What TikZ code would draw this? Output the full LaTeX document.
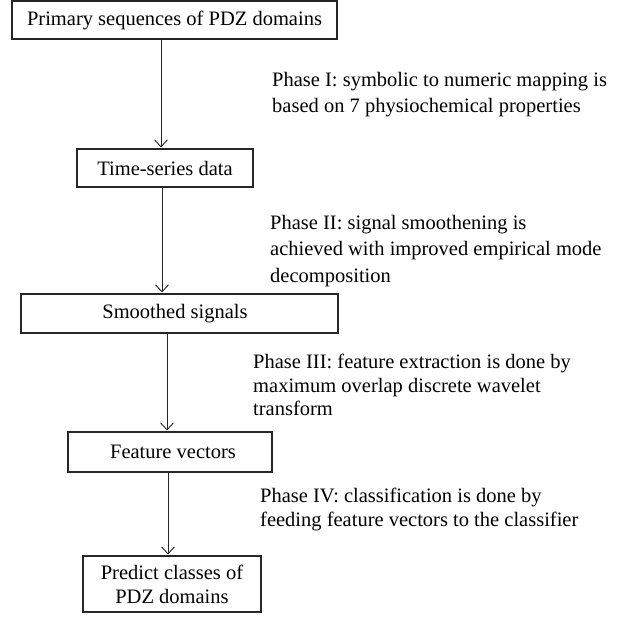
\documentclass[tikz,border=0pt]{standalone}
\usepackage{fontspec}
\setmainfont{Liberation Serif}
\usetikzlibrary{arrows.meta}
\tikzset{
  boxnode/.style={draw=black!85, line width=1.1pt, inner sep=0pt, align=center,
    font={\fontsize{20.5}{24}\selectfont}},
  phasetext/.style={anchor=north west, inner sep=0pt, align=left},
  flowarrow/.style={draw=black!85, line width=0.9pt, -{Straight Barb[length=7pt,width=13pt]}, shorten >=1pt},
}
\begin{document}
\begin{tikzpicture}[x=1pt,y=-1pt]
\useasboundingbox (0,0) rectangle (634,616);
\node[boxnode, minimum width=325pt, minimum height=38pt] (b1) at (174.5,20) {Primary sequences of PDZ domains};
\node[boxnode, minimum width=176pt, minimum height=38pt] (b2) at (165,168) {Time-series data};
\node[boxnode, minimum width=317pt, minimum height=39pt] (b3) at (179.5,313.5) {\hspace*{-9pt}Smoothed signals};
\node[boxnode, minimum width=204pt, minimum height=40pt] (b4) at (170,452) {\hspace*{6pt}Feature vectors};
\node[boxnode, minimum width=178pt, minimum height=56pt] (b5) at (172,584) {Predict classes of\\PDZ domains};

\coordinate (x1) at (161,0);
\coordinate (x2) at (162,0);
\coordinate (x3) at (167,0);
\coordinate (x4) at (168,0);
\draw[flowarrow] (b1.south -| x1) -- (b2.north -| x1);
\draw[flowarrow] (b2.south -| x2) -- (b3.north -| x2);
\draw[flowarrow] (b3.south -| x3) -- (b4.north -| x3);
\draw[flowarrow] (b4.south -| x4) -- (b5.north -| x4);

\node[phasetext, font={\fontsize{20.5}{26.5}\selectfont}] (p1) at (272,72) {Phase I: symbolic to numeric mapping is\\based on 7 physiochemical properties};
\node[phasetext, font={\fontsize{20.5}{26.5}\selectfont}] (p2) at (270,215) {Phase II: signal smoothening is\\achieved with improved empirical mode\\decomposition};
\node[phasetext, font={\fontsize{20.5}{23.5}\selectfont}] (p3) at (253,354) {Phase III: feature extraction is done by\\maximum overlap discrete wavelet\\transform};
\node[phasetext, font={\fontsize{20.5}{23.5}\selectfont}] (p4) at (260,488) {Phase IV: classification is done by\\feeding feature vectors to the classifier};
\end{tikzpicture}
\end{document}
